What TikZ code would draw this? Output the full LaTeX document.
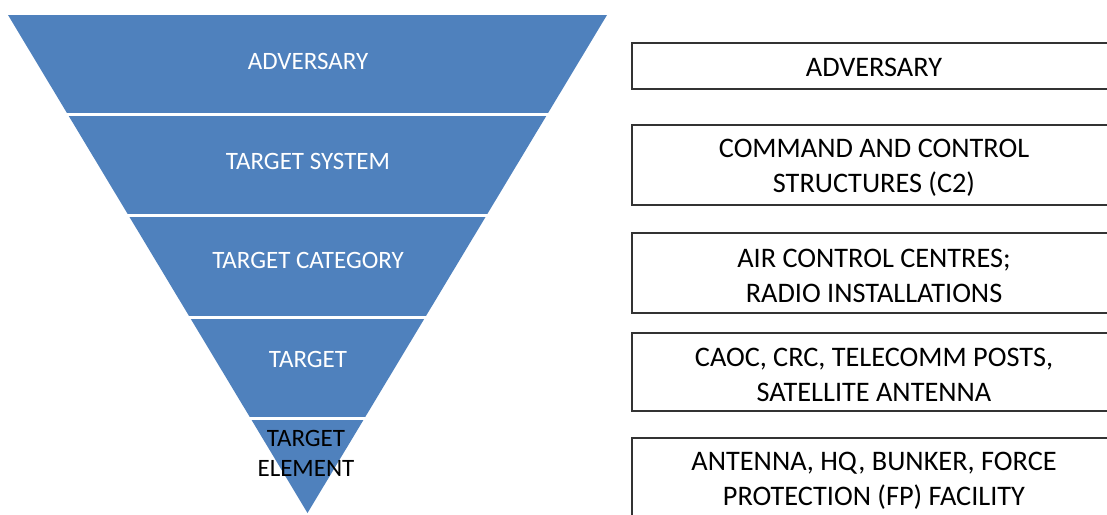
\documentclass[tikz,border=0pt]{standalone}
\usepackage{fontspec}
\setmainfont{Carlito}
\definecolor{pyrblue}{HTML}{4F81BD}
\definecolor{boxline}{HTML}{333333}
\begin{document}
\begin{tikzpicture}[x=1pt,y=-1pt,
  pyr/.style={fill=pyrblue},
  sep/.style={draw=white,line width=3pt},
  lbl/.style={text=white,font=\fontsize{25}{30}\selectfont,align=center,inner sep=0pt},
  lbldark/.style={text=black,font=\fontsize{25}{30}\selectfont,align=center,inner sep=0pt},
  rbox/.style={draw=boxline,line width=1.7pt,fill=white,minimum width=484pt,inner sep=0pt},
  rtxt/.style={font=\fontsize{28.3}{34.5}\selectfont,align=center,text=black,inner sep=0pt}]
\useasboundingbox (0,0) rectangle (1107,514);
\clip (0,0) rectangle (1107,514);
\fill[pyr] (8,15) -- (607,15) -- (307.5,513) -- cycle;
\coordinate (s1a) at (40,114.5); \coordinate (s1b) at (580,114.5);
\coordinate (s2a) at (100,215.5); \coordinate (s2b) at (520,215.5);
\coordinate (s3a) at (160,317); \coordinate (s3b) at (460,317);
\coordinate (s4a) at (220,418.5); \coordinate (s4b) at (400,418.5);
\draw[sep] (s1a) -- (s1b);
\draw[sep] (s2a) -- (s2b);
\draw[sep] (s3a) -- (s3b);
\draw[sep] (s4a) -- (s4b);
\node[lbl] (l1) at (308,61) {ADVERSARY};
\node[lbl] (l2) at (308,161) {TARGET SYSTEM};
\node[lbl] (l3) at (308,260) {TARGET CATEGORY};
\node[lbl] (l4) at (308,359) {TARGET};
\node[lbldark] (l5) at (306,453) {TARGET\\ELEMENT};
\node[rbox,minimum height=46pt] (r1) at (874,66) {};
\node[rbox,minimum height=80pt] (r2) at (874,165) {};
\node[rbox,minimum height=80pt] (r3) at (874,273) {};
\node[rbox,minimum height=78pt] (r4) at (874,372) {};
\node[rbox,minimum height=80pt] (r5) at (874,478) {};
\node[rtxt] (t1) at ([yshift=-1.5pt]r1.center) {ADVERSARY};
\node[rtxt] (t2) at ([yshift=-3pt]r2.center) {COMMAND AND CONTROL\\STRUCTURES (C2)};
\node[rtxt] (t3) at ([yshift=-3pt]r3.center) {AIR CONTROL CENTRES;\\RADIO INSTALLATIONS};
\node[rtxt] (t4) at ([yshift=-3pt]r4.center) {CAOC, CRC, TELECOMM POSTS,\\SATELLITE ANTENNA};
\node[rtxt] (t5) at ([yshift=-3pt]r5.center) {ANTENNA, HQ, BUNKER, FORCE\\PROTECTION (FP) FACILITY};
\end{tikzpicture}
\end{document}
